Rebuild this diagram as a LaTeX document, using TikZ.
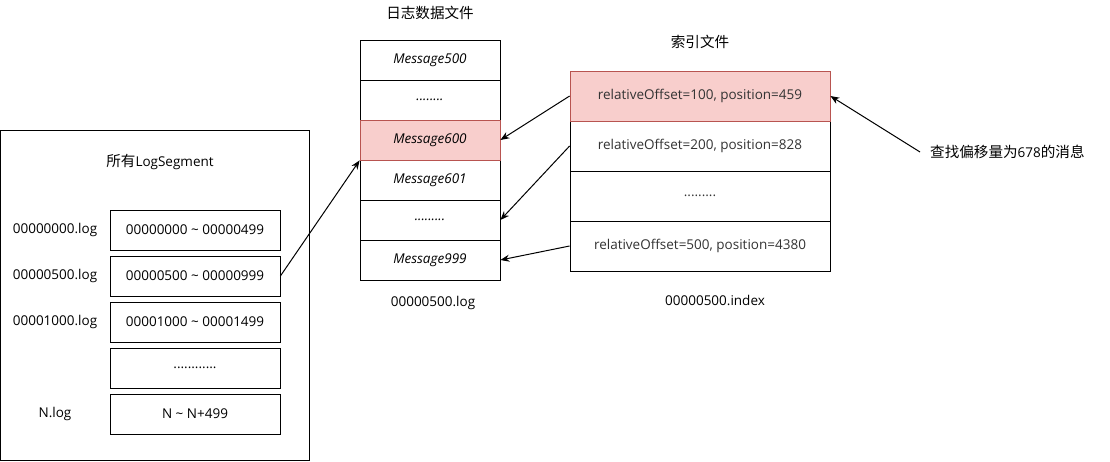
\documentclass[tikz,border=0pt]{standalone}
\usepackage{fontspec}
\setmainfont{Open Sans}
\newfontfamily\cjk[Scale=1.08]{Noto Sans CJK SC}
\usetikzlibrary{arrows.meta}
\definecolor{hlfill}{RGB}{248,206,204}
\definecolor{hldraw}{RGB}{184,84,80}
\newcommand{\segdots}{............}
\newcommand{\msgdots}{........}
\newcommand{\idxdots}{.........}
\tikzset{
  px/.style={x=1pt,y=-1pt,font=\fontsize{13.5}{15}\selectfont},
  cell/.style={draw,line width=0.8pt,minimum height=#1,inner sep=0pt},
  hl/.style={fill=hlfill,draw=hldraw},
  ptr/.style={-{Stealth[length=9pt,width=7pt]},line width=1pt}
}
\begin{document}
\begin{tikzpicture}[px]
    \useasboundingbox (0,0) rectangle (1110,461);
    % all segments
    \node[cell=330pt,minimum width=309pt] (allseg) at (155,295) {};
    \node (segtitle) at (160,162) {{\cjk 所有}LogSegment};
    \foreach \i/\nm/\rng in {1/00000000.log/00000000 \textasciitilde{} 00000499,
                             2/00000500.log/00000500 \textasciitilde{} 00000999,
                             3/00001000.log/00001000 \textasciitilde{} 00001499,
                             4//\segdots,
                             5/N.log/N \textasciitilde{} N+499} {
      \node[cell=40pt,minimum width=170pt] (seg\i) at (195,{230+46*(\i-1)}) {\rng};
      \node (segname\i) at (55,{230+46*(\i-1)}) {\nm};
    }
    % log file
    \node (logtitle) at (430,13) {\cjk 日志数据文件};
    \foreach \i/\txt in {1/Message500,2/\msgdots,3/Message600,4/Message601,5/\idxdots,6/Message999} {
      \node[cell=40pt,minimum width=140pt,font=\fontsize{13.5}{15}\selectfont\itshape] (msg\i) at (430,{60+40*(\i-1)}) {\txt};
    }
    \node[cell=40pt,minimum width=140pt,hl,font=\fontsize{13.5}{15}\selectfont\itshape] at (msg3) {Message600};
    \node (logname) at (433,303) {00000500.log};
    % index file
    \node (idxtitle) at (700,42) {\cjk 索引文件};
    \foreach \i/\txt in {1/{relativeOffset=100, position=459},2/{relativeOffset=200, position=828},
                         3/\idxdots,4/{relativeOffset=500, position=4380}} {
      \node[cell=50pt,minimum width=260pt,text=black!80] (idx\i) at (700,{96+50*(\i-1)}) {\txt};
    }
    \node[cell=50pt,minimum width=260pt,hl,text=black!80] at (idx1) {relativeOffset=100, position=459};
    \node (idxname) at (715,300) {00000500.index};
    % query
    \node[anchor=west,inner sep=10pt] (query) at (920,152) {{\cjk 查找偏移量为}678{\cjk 的消息}};
    \draw[ptr] (query.west) -- (idx1.east);
    \draw[ptr] (seg2.east) -- (msg3.south west);
    \draw[ptr] (idx1.west) -- (msg3.east);
    \draw[ptr] (idx2.west) -- (msg5.east);
    \draw[ptr] (idx4.west) -- (msg6.east);
  \end{tikzpicture}
\end{document}
